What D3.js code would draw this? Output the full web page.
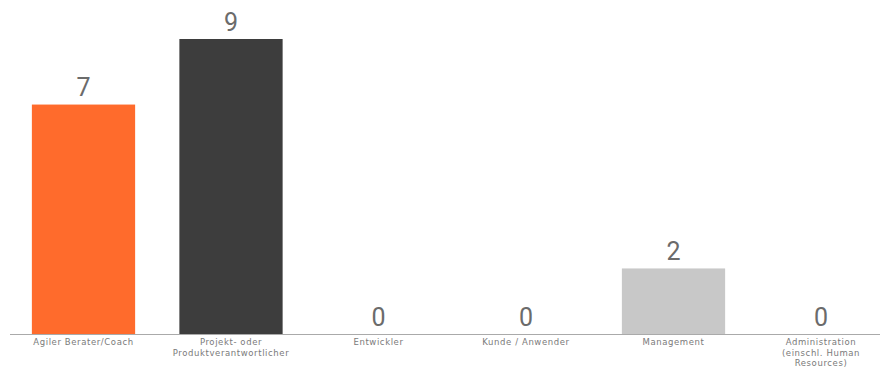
<!DOCTYPE html>
<html><head><meta charset="utf-8">
<script src="https://cdn.jsdelivr.net/npm/d3@7"></script>
<style>html,body{margin:0;padding:0;background:#fff}</style>
</head><body>
<svg id="c" width="880" height="369"></svg>
<script>
const categories = [
  ["Agiler Berater/Coach"],
  ["Projekt- oder", "Produktverantwortlicher"],
  ["Entwickler"],
  ["Kunde / Anwender"],
  ["Management"],
  ["Administration", "(einschl. Human", "Resources)"]
];
const values = [7, 9, 0, 0, 2, 0];
const colors = ["#FF6B2C", "#3D3D3D", "#C8C8C8", "#C8C8C8", "#C8C8C8", "#C8C8C8"];

const svg = d3.select("#c");
const keys = categories.map((d, i) => i);
const x = d3.scaleBand().domain(keys).range([9.75, 894.75]).paddingInner(0.3).paddingOuter(0.15);
const y = d3.scaleLinear().domain([0, 9]).range([334, 39]);

svg.selectAll("rect.bar").data(values).join("rect")
  .attr("class", "bar")
  .attr("x", (d, i) => x(i))
  .attr("width", x.bandwidth())
  .attr("y", d => y(d))
  .attr("height", d => y(0) - y(d))
  .attr("fill", (d, i) => colors[i]);

svg.append("line")
  .attr("x1", 10).attr("x2", 880)
  .attr("y1", y(0) + 0.5).attr("y2", y(0) + 0.5)
  .attr("stroke", "#aaa").attr("stroke-width", 1);

svg.selectAll("text.val").data(values).join("text")
  .attr("class", "val")
  .attr("x", (d, i) => x(i) + x.bandwidth() / 2)
  .attr("y", d => y(d) - 8.5)
  .attr("text-anchor", "middle")
  .attr("font-family", "Roboto, 'Liberation Sans', sans-serif")
  .attr("font-size", 25)
  .attr("fill", "#6b6b6b")
  .text(d => d);

const lab = svg.selectAll("text.cat").data(categories).join("text")
  .attr("class", "cat")
  .attr("text-anchor", "middle")
  .attr("font-family", "'DejaVu Sans', sans-serif")
  .attr("font-size", 8.5)
  .attr("letter-spacing", 0.6)
  .attr("fill", "#7a7a7a");
lab.each(function (lines, i) {
  const t = d3.select(this);
  lines.forEach((l, j) => {
    t.append("tspan")
      .attr("x", x(i) + x.bandwidth() / 2)
      .attr("y", 345 + j * 10.5)
      .text(l);
  });
});
</script>
</body></html>
